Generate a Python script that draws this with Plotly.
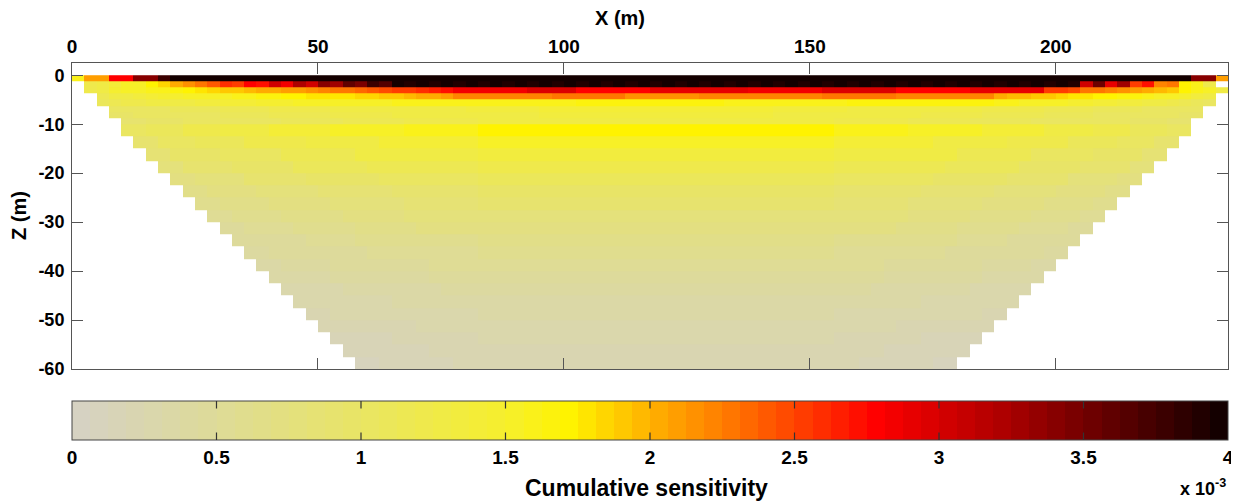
import plotly.graph_objects as go

# ---------------- data ----------------
# model mesh: 94 columns of 2.5 m between X = 0 and 235 m
CELL_W = 2.5
N_COLS = 94
x_edges = [i * CELL_W for i in range(N_COLS + 1)]

# layer boundaries (m), top to bottom
z_edges = [0, -1.25, -2.5, -3.75, -5, -6.25, -7.5, -8.75, -10, -12.5, -15, -17.5,
           -20, -22.5, -25, -27.5, -30, -32.5, -35, -37.5, -40, -42.5, -45, -47.5,
           -50, -52.5, -55, -57.5, -60]

# first model column used by each layer (top to bottom)
row_start = [0, 1, 1, 2, 2, 3, 3, 4, 4, 5, 6, 7, 8, 9, 10, 11, 12, 13, 14, 15,
             16, 17, 18, 19, 20, 21, 22, 23]

# cumulative sensitivity (x 10^-3), run-length coded [value, count] per layer
row_blobs = []
for _ in range(28):
    row_blobs += [[4.2, 1], [3.88, 1]]
row1_mid = row_blobs[:57]

rows = [
    # 0 : 0 - 1.25 m
    [[1.6, 1], [2.1, 2], [2.8, 2], [3.4, 2], [3.8, 1], [4.2, 83], [3.4, 2], [2.1, 1]],
    # 1 : 1.25 - 2.5 m
    [[1.2, 1], [1.3, 1], [1.4, 1], [1.5, 1], [1.55, 1], [1.7, 1], [1.85, 1], [2.05, 1],
     [2.15, 1], [2.3, 1], [2.4, 1], [2.6, 1], [2.5, 1], [2.8, 1], [2.7, 1], [3.0, 1],
     [2.85, 1], [3.2, 1], [3.0, 1], [3.4, 1], [3.25, 1], [3.6, 1], [3.45, 1], [3.8, 1],
     [3.65, 1]] + row1_mid +
    [[3.0, 1], [3.5, 1], [2.9, 1], [3.3, 1], [2.5, 1], [2.7, 1], [2.2, 1], [2.3, 1],
     [1.7, 1], [1.6, 1], [1.2, 1]],
    # 2 : 2.5 - 3.75 m
    [[1.2, 1], [1.3, 1], [1.45, 1], [1.5, 1], [1.55, 1], [1.6, 2], [1.65, 1], [1.7, 1],
     [1.8, 1], [1.85, 1], [1.9, 2], [1.95, 1],
     [2.0, 1], [2.05, 1], [2.1, 2], [2.15, 1], [2.2, 1], [2.25, 1], [2.3, 1],
     [2.35, 1], [2.4, 1], [2.45, 1], [2.5, 1], [2.55, 1], [2.6, 1], [2.65, 1], [2.7, 1],
     [2.85, 6], [2.95, 4], [2.8, 6], [2.9, 8], [2.85, 6], [2.95, 6], [2.8, 6], [2.9, 6],
     [2.5, 2], [2.45, 1], [2.3, 1], [2.25, 1], [2.2, 1], [2.15, 1], [2.1, 1],
     [2.0, 1], [1.95, 1], [1.9, 1], [1.7, 1], [1.6, 1], [1.55, 1], [1.25, 1]],
    # 3 : 3.75 - 5 m
    [[1.15, 1], [1.25, 1], [1.3, 1], [1.35, 1], [1.4, 1], [1.45, 2], [1.5, 2],
     [1.55, 2], [1.6, 2], [1.65, 2], [1.7, 2], [1.75, 2],
     [1.8, 2], [1.85, 2], [1.9, 2], [1.95, 1], [2.0, 1], [2.05, 1], [2.1, 1],
     [2.2, 8], [2.25, 6], [2.15, 6], [2.2, 10], [2.25, 6], [2.2, 8],
     [2.0, 1], [1.95, 2], [1.9, 2], [1.85, 1], [1.8, 1],
     [1.75, 1], [1.7, 2], [1.65, 2], [1.6, 1], [1.55, 1], [1.5, 1], [1.45, 1],
     [1.35, 1], [1.25, 1]],
    # 4 : 5 - 6.25 m
    [[1.1, 1], [1.15, 1], [1.2, 2], [1.25, 2], [1.3, 2], [1.35, 2], [1.4, 3], [1.45, 3],
     [1.5, 4], [1.55, 4], [1.6, 5],
     [1.6, 10], [1.65, 12], [1.6, 10], [1.65, 12],
     [1.6, 2], [1.55, 2], [1.5, 2], [1.45, 2], [1.4, 2], [1.35, 2], [1.3, 1], [1.25, 1],
     [1.2, 1], [1.15, 1], [1.1, 1], [1.05, 1]],
    # 5 : 6.25 - 7.5 m
    [[1.0, 2], [1.05, 3], [1.1, 4], [1.15, 4], [1.2, 5], [1.25, 5], [1.3, 6], [1.35, 6],
     [1.4, 19],
     [1.35, 6], [1.3, 6], [1.25, 5], [1.2, 5], [1.15, 4], [1.1, 4], [1.05, 3], [1.0, 2]],
    # 6 : 7.5 - 8.75 m
    [[0.95, 2], [1.0, 3], [1.05, 4], [1.1, 4], [1.15, 5], [1.2, 5], [1.25, 6], [1.3, 6],
     [1.33, 19],
     [1.3, 6], [1.25, 6], [1.2, 5], [1.15, 5], [1.1, 4], [1.05, 4], [1.0, 3], [0.95, 2]],
    # 7 : 8.75 - 10 m
    [[0.9, 2], [0.95, 3], [1.0, 4], [1.05, 4], [1.1, 5], [1.15, 5], [1.2, 6],
     [1.25, 29],
     [1.2, 6], [1.15, 5], [1.1, 5], [1.05, 4], [1.0, 4], [0.95, 3], [0.9, 2]],
    # 8 : 10 - 12.5 m
    [[1.0, 2], [1.1, 3], [1.2, 3], [1.3, 4], [1.4, 5], [1.5, 6], [1.6, 6],
     [1.72, 29],
     [1.6, 6], [1.5, 6], [1.4, 5], [1.3, 4], [1.2, 3], [1.1, 3], [1.0, 2]],
    # 9 : 12.5 - 15 m
    [[0.9, 2], [1.0, 3], [1.1, 4], [1.2, 5], [1.3, 6], [1.4, 8],
     [1.5, 29],
     [1.4, 8], [1.3, 6], [1.2, 5], [1.1, 4], [1.0, 3], [0.9, 2]],
    # 10 : 15 - 17.5 m
    [[0.85, 2], [0.95, 4], [1.05, 5], [1.15, 6], [1.25, 10],
     [1.35, 29],
     [1.25, 10], [1.15, 6], [1.05, 5], [0.95, 4], [0.85, 2]],
    # 11 : 17.5 - 20 m
    [[0.78, 2], [0.88, 4], [0.98, 5], [1.08, 6], [1.15, 9],
     [1.2, 29],
     [1.15, 9], [1.08, 6], [0.98, 5], [0.88, 4], [0.78, 2]],
    # 12 : 20 - 22.5 m
    [[0.7, 2], [0.8, 4], [0.88, 5], [0.96, 6], [1.02, 8],
     [1.08, 29],
     [1.02, 8], [0.96, 6], [0.88, 5], [0.8, 4], [0.7, 2]],
    # 13 : 22.5 - 25 m
    [[0.64, 2], [0.72, 4], [0.8, 5], [0.87, 6], [0.92, 7],
     [0.97, 29],
     [0.92, 7], [0.87, 6], [0.8, 5], [0.72, 4], [0.64, 2]],
    # 14 : 25 - 27.5 m
    [[0.58, 2], [0.65, 4], [0.72, 5], [0.79, 6], [0.84, 6],
     [0.88, 29],
     [0.84, 6], [0.79, 6], [0.72, 5], [0.65, 4], [0.58, 2]],
    # 15 : 27.5 - 30 m
    [[0.53, 2], [0.6, 4], [0.66, 5], [0.72, 5], [0.77, 6],
     [0.8, 29],
     [0.77, 6], [0.72, 5], [0.66, 5], [0.6, 4], [0.53, 2]],
    # 16 : 30 - 32.5 m
    [[0.48, 2], [0.54, 4], [0.6, 5], [0.65, 5], [0.69, 5],
     [0.72, 29],
     [0.69, 5], [0.65, 5], [0.6, 5], [0.54, 4], [0.48, 2]],
    # 17 : 32.5 - 35 m
    [[0.44, 2], [0.49, 4], [0.54, 4], [0.59, 5], [0.62, 5],
     [0.65, 29],
     [0.62, 5], [0.59, 5], [0.54, 4], [0.49, 4], [0.44, 2]],
    # 18 : 35 - 37.5 m
    [[0.4, 2], [0.44, 4], [0.49, 4], [0.53, 4], [0.56, 5],
     [0.58, 29],
     [0.56, 5], [0.53, 4], [0.49, 4], [0.44, 4], [0.4, 2]],
    # 19 : 37.5 - 40 m
    [[0.36, 2], [0.4, 4], [0.44, 4], [0.48, 4], [0.5, 4],
     [0.52, 29],
     [0.5, 4], [0.48, 4], [0.44, 4], [0.4, 4], [0.36, 2]],
    # 20 : 40 - 42.5 m
    [[0.32, 2], [0.36, 3], [0.39, 4], [0.42, 4], [0.44, 4],
     [0.46, 29],
     [0.44, 4], [0.42, 4], [0.39, 4], [0.36, 3], [0.32, 2]],
    # 21 : 42.5 - 45 m
    [[0.28, 2], [0.31, 3], [0.34, 4], [0.37, 4], [0.39, 3],
     [0.41, 29],
     [0.39, 3], [0.37, 4], [0.34, 4], [0.31, 3], [0.28, 2]],
    # 22 : 45 - 47.5 m
    [[0.25, 2], [0.28, 3], [0.31, 3], [0.33, 4], [0.35, 3],
     [0.37, 29],
     [0.35, 3], [0.33, 4], [0.31, 3], [0.28, 3], [0.25, 2]],
    # 23 : 47.5 - 50 m
    [[0.22, 2], [0.25, 3], [0.27, 3], [0.29, 3], [0.31, 3],
     [0.33, 29],
     [0.31, 3], [0.29, 3], [0.27, 3], [0.25, 3], [0.22, 2]],
    # 24 : 50 - 52.5 m
    [[0.19, 2], [0.21, 3], [0.23, 3], [0.25, 3], [0.27, 2],
     [0.29, 29],
     [0.27, 2], [0.25, 3], [0.23, 3], [0.21, 3], [0.19, 2]],
    # 25 : 52.5 - 55 m
    [[0.16, 2], [0.18, 3], [0.2, 3], [0.22, 2], [0.24, 2],
     [0.26, 29],
     [0.24, 2], [0.22, 2], [0.2, 3], [0.18, 3], [0.16, 2]],
    # 26 : 55 - 57.5 m
    [[0.14, 2], [0.16, 3], [0.18, 2], [0.2, 2], [0.22, 2],
     [0.23, 29],
     [0.22, 2], [0.2, 2], [0.18, 2], [0.16, 3], [0.14, 2]],
    # 27 : 57.5 - 60 m
    [[0.12, 2], [0.14, 2], [0.16, 2], [0.18, 2], [0.19, 2],
     [0.2, 29],
     [0.19, 2], [0.18, 2], [0.16, 2], [0.14, 2], [0.12, 2]],
]

CB_MIN, CB_MAX = 0, 4
cbar_ticks = [0, 0.5, 1, 1.5, 2, 2.5, 3, 3.5, 4]
cbar_ticktext = ["0", "0.5", "1", "1.5", "2", "2.5", "3", "3.5", "4"]
x_ticks = [0, 50, 100, 150, 200]
x_ticktext = ["0", "50", "100", "150", "200"]
z_ticks = [0, -10, -20, -30, -40, -50, -60]
z_ticktext = ["0", "-10", "-20", "-30", "-40", "-50", "-60"]

# ---------------- build grid ----------------
z_grid = []
for start, rle in zip(row_start, rows):
    line = [None] * N_COLS
    c = start
    for v, n in rle:
        for _ in range(n):
            if c < N_COLS:
                line[c] = v
            c += 1
    z_grid.append(line)

# ascending order for plotly
y_edges_asc = z_edges[::-1]
z_grid_asc = z_grid[::-1]

# ---------------- colour map (64 discrete levels) ----------------
anchors = [
    (0.0, (213, 209, 197)),
    (0.5, (222, 219, 152)),
    (1.0, (233, 229, 100)),
    (1.5, (246, 239, 45)),
    (1.72, (255, 243, 0)),
    (2.0, (255, 178, 0)),
    (2.25, (255, 125, 0)),
    (2.5, (255, 68, 0)),
    (2.78, (255, 0, 0)),
    (3.0, (214, 0, 0)),
    (3.25, (168, 0, 0)),
    (3.5, (115, 0, 0)),
    (3.75, (65, 0, 0)),
    (4.0, (14, 0, 0)),
]


def colour_at(v):
    for (a, ca), (b, cb) in zip(anchors[:-1], anchors[1:]):
        if a <= v <= b:
            t = (v - a) / (b - a)
            return tuple(round(ca[k] + t * (cb[k] - ca[k])) for k in range(3))
    return anchors[-1][1]


NLEV = 64
colorscale = []
for i in range(NLEV):
    col = colour_at(4.0 * (i + 0.5) / NLEV)
    s = "rgb(%d,%d,%d)" % col
    colorscale.append([i / NLEV, s])
    colorscale.append([(i + 1) / NLEV, s])

FAM = "Liberation Sans, Arial, sans-serif"


def bold(size):
    return dict(family=FAM, size=size, color="black", weight="bold")


# the page body adds an 8 px offset; figure is sized so the plot area
# lands at window pixels x 72..1228, y 63..369
OFF = 8
W, H = 1239 - OFF, 504 - OFF
L, R, T, B = 72 - OFF, 11, 63 - OFF, 135
PW = W - L - R
PH = H - T - B


def px_x(p):  # window pixel -> paper x
    return (p - OFF - L) / PW


def px_y(p):  # window pixel -> paper y
    return (H - B - (p - OFF)) / PH


CB_TOP, CB_BOT = 401, 440
CB_TICKLEN = 9

fig = go.Figure(
    go.Heatmap(
        x=x_edges,
        y=y_edges_asc,
        z=z_grid_asc,
        zmin=CB_MIN,
        zmax=CB_MAX,
        colorscale=colorscale,
        hoverongaps=False,
        colorbar=dict(
            orientation="h",
            xref="paper",
            yref="paper",
            x=0.5,
            xanchor="center",
            y=px_y(CB_TOP),
            yanchor="top",
            lenmode="fraction",
            len=1.0,
            thickness=CB_BOT - CB_TOP,
            xpad=0,
            ypad=0,
            outlinecolor="#444",
            outlinewidth=1,
            tickvals=cbar_ticks,
            ticktext=cbar_ticktext,
            ticks="",
            ticklabeloverflow="allow",
            tickfont=bold(19),
        ),
    )
)

# colour-bar tick marks on both inner edges (annotation arrows sit above the bar)
cb_tick_marks = []
for v in cbar_ticks[1:-1]:
    xp = (v - CB_MIN) / (CB_MAX - CB_MIN)
    for edge, dy in ((CB_TOP, CB_TICKLEN), (CB_BOT, -CB_TICKLEN)):
        cb_tick_marks.append(dict(
            text="", xref="paper", yref="paper", x=xp, y=px_y(edge),
            showarrow=True, arrowhead=0, arrowwidth=1.2, arrowcolor="#333",
            ax=0, ay=dy, standoff=0, startstandoff=0,
        ))

fig.update_layout(
    width=W,
    height=H,
    margin=dict(l=L, r=R, t=T, b=B, autoexpand=False),
    paper_bgcolor="white",
    plot_bgcolor="white",
    font=bold(18),
    xaxis=dict(
        range=[0, 235],
        side="top",
        tickvals=x_ticks,
        ticktext=x_ticktext,
        ticks="inside",
        ticklen=11,
        tickcolor="#555",
        showline=True,
        linecolor="#555",
        linewidth=1,
        mirror="allticks",
        showgrid=False,
        zeroline=False,
        automargin=False,
        tickfont=bold(19),
        ticklabelstandoff=1,
    ),
    yaxis=dict(
        range=[-60, 2.5],
        tickvals=z_ticks,
        ticktext=z_ticktext,
        ticks="inside",
        ticklen=11,
        tickcolor="#555",
        showline=True,
        linecolor="#555",
        linewidth=1,
        mirror="allticks",
        showgrid=False,
        zeroline=False,
        automargin=False,
        tickfont=bold(18),
        ticklabelstandoff=3,
    ),
    annotations=[
        dict(text="X (m)", xref="paper", yref="paper", x=px_x(620), y=px_y(18),
             xanchor="center", yanchor="middle", showarrow=False, font=bold(20)),
        dict(text="Z (m)", xref="paper", yref="paper", x=px_x(19), y=px_y(216),
             xanchor="center", yanchor="middle", textangle=-90, showarrow=False,
             font=bold(20)),
        dict(text="Cumulative sensitivity", xref="paper", yref="paper", x=px_x(646),
             y=px_y(488), xanchor="center", yanchor="middle", showarrow=False,
             font=bold(23)),
        dict(text="x 10<sup>-3</sup>", xref="paper", yref="paper", x=1.0,
             xanchor="right", y=px_y(487), yanchor="middle", showarrow=False,
             font=bold(18)),
    ] + cb_tick_marks,
)

fig.write_html("out.html")
